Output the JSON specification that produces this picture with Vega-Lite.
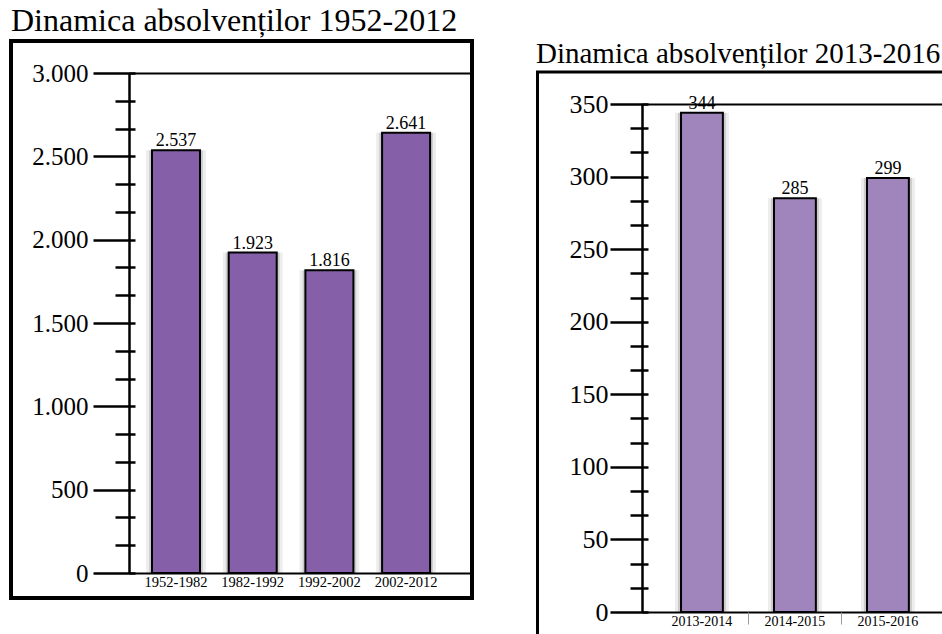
{
  "$schema": "https://vega.github.io/schema/vega-lite/v6.json",
  "padding": {"left": 9, "top": 3, "right": 0, "bottom": 0},
  "spacing": 62,
  "datasets": {
    "perioade_1952_2012": [
      {"perioada": "1952-1982", "absolventi": 2537},
      {"perioada": "1982-1992", "absolventi": 1923},
      {"perioada": "1992-2002", "absolventi": 1816},
      {"perioada": "2002-2012", "absolventi": 2641}
    ],
    "perioade_2013_2016": [
      {"perioada": "2013-2014", "absolventi": 344},
      {"perioada": "2014-2015", "absolventi": 285},
      {"perioada": "2015-2016", "absolventi": 299}
    ]
  },
  "hconcat": [
    {
      "width": 461,
      "height": 557,
      "view": {"stroke": "black", "strokeWidth": 4},
      "title": {
        "text": "Dinamica absolvenților 1952-2012",
        "anchor": "start",
        "frame": "group",
        "offset": -22,
        "baseline": "alphabetic",
        "font": "Liberation Serif",
        "fontSize": 32,
        "fontWeight": "normal",
        "color": "black"
      },
      "data": {"name": "perioade_1952_2012"},
      "encoding": {
        "x": {
          "field": "perioada",
          "type": "nominal",
          "sort": null,
          "scale": {"range": [118, 461], "paddingInner": 0, "paddingOuter": 0.236, "align": 0.239},
          "axis": {
            "orient": "bottom",
            "offset": -25,
            "domain": false,
            "ticks": false,
            "tickSize": 0,
            "labelAngle": 0,
            "labelPadding": 2,
            "labelFont": "Liberation Serif",
            "labelFontSize": 14.5,
            "labelColor": "black",
            "title": null
          }
        },
        "y": {
          "field": "absolventi",
          "type": "quantitative",
          "scale": {"domain": [0, 3000], "range": [532, 32], "nice": false},
          "axis": null
        }
      },
      "layer": [
        {
          "mark": {"type": "bar", "width": {"band": 0.78}, "color": "#000000", "opacity": 0.07, "strokeWidth": 0},
          "encoding": {
            "y": {
              "field": "absolventi",
              "type": "quantitative",
              "axis": {
                "orient": "left",
                "offset": -118,
                "domain": true,
                "domainColor": "black",
                "domainWidth": 2.5,
                "ticks": false,
                "labels": false,
                "grid": false,
                "title": null
              }
            }
          }
        },
        {
          "mark": {"type": "bar", "width": {"band": 0.7}, "color": "#000000", "opacity": 0.14, "strokeWidth": 0},
          "encoding": {
            "y": {
              "field": "absolventi",
              "type": "quantitative",
              "axis": {
                "orient": "left",
                "offset": -124,
                "values": [166.667, 333.333, 666.667, 833.333, 1166.667, 1333.333, 1666.667, 1833.333, 2166.667, 2333.333, 2666.667, 2833.333],
                "domain": false,
                "ticks": true,
                "tickSize": 20,
                "tickWidth": 2.5,
                "tickColor": "black",
                "labels": false,
                "grid": false,
                "title": null
              }
            }
          }
        },
        {
          "mark": {"type": "bar", "width": {"band": 0.626}, "color": "#8560A8", "stroke": "black", "strokeWidth": 2},
          "encoding": {
            "y": {
              "field": "absolventi",
              "type": "quantitative",
              "axis": {
                "orient": "left",
                "offset": -124,
                "values": [0, 500, 1000, 1500, 2000, 2500, 3000],
                "format": ",d",
                "domain": false,
                "ticks": true,
                "tickSize": 42,
                "tickWidth": 2.5,
                "tickColor": "black",
                "labelPadding": 5,
                "labelFont": "Liberation Serif",
                "labelFontSize": 25,
                "labelColor": "black",
                "grid": true,
                "gridColor": "black",
                "gridWidth": 2,
                "gridOpacity": {"condition": {"test": "datum.value == 0 || datum.value == 3000", "value": 1}, "value": 0},
                "title": null
              }
            }
          }
        },
        {
          "mark": {"type": "text", "baseline": "alphabetic", "dy": -4, "font": "Liberation Serif", "fontSize": 18, "color": "black"},
          "encoding": {
            "text": {"field": "absolventi", "type": "quantitative", "format": ",d"}
          }
        }
      ],
      "resolve": {"axis": {"y": "independent"}}
    },
    {
      "width": 406,
      "height": 593,
      "view": {"stroke": null},
      "title": {
        "text": "Dinamica absolvenților 2013-2016",
        "anchor": "start",
        "frame": "group",
        "offset": -51,
        "baseline": "alphabetic",
        "font": "Liberation Serif",
        "fontSize": 29,
        "fontWeight": "normal",
        "color": "black"
      },
      "layer": [
        {
          "data": {"name": "perioade_2013_2016"},
          "encoding": {
            "x": {
              "field": "perioada",
              "type": "nominal",
              "sort": null,
              "scale": {"range": [106, 406], "paddingInner": 0, "paddingOuter": 0.113, "align": 0.64},
              "axis": {
                "orient": "bottom",
                "offset": -22,
                "domain": false,
                "bandPosition": 0,
                "ticks": true,
                "tickSize": 12,
                "tickWidth": 1,
                "tickColor": "#9a9a9a",
                "tickOpacity": {"condition": {"test": "datum.value == '2013-2014'", "value": 0}, "value": 1},
                "labelAngle": 0,
                "labelPadding": -10,
                "labelFont": "Liberation Serif",
                "labelFontSize": 14,
                "labelColor": "black",
                "title": null
              }
            },
            "y": {
              "field": "absolventi",
              "type": "quantitative",
              "scale": {"domain": [0, 350], "range": [571, 63], "nice": false},
              "axis": null
            }
          },
          "layer": [
            {
              "mark": {"type": "bar", "width": {"band": 0.58}, "color": "#000000", "opacity": 0.07, "strokeWidth": 0},
              "encoding": {
                "y": {
                  "field": "absolventi",
                  "type": "quantitative",
                  "axis": {
                    "orient": "left",
                    "offset": -106,
                    "domain": true,
                    "domainColor": "black",
                    "domainWidth": 2.5,
                    "ticks": false,
                    "labels": false,
                    "grid": false,
                    "title": null
                  }
                }
              }
            },
            {
              "mark": {"type": "bar", "width": {"band": 0.516}, "color": "#000000", "opacity": 0.14, "strokeWidth": 0},
              "encoding": {
                "y": {
                  "field": "absolventi",
                  "type": "quantitative",
                  "axis": {
                    "orient": "left",
                    "offset": -112,
                    "values": [16.667, 33.333, 66.667, 83.333, 116.667, 133.333, 166.667, 183.333, 216.667, 233.333, 266.667, 283.333, 316.667, 333.333],
                    "domain": false,
                    "ticks": true,
                    "tickSize": 18,
                    "tickWidth": 2.5,
                    "tickColor": "black",
                    "labels": false,
                    "grid": false,
                    "title": null
                  }
                }
              }
            },
            {
              "mark": {"type": "bar", "width": {"band": 0.45}, "color": "#A084BC", "stroke": "black", "strokeWidth": 2},
              "encoding": {
                "y": {
                  "field": "absolventi",
                  "type": "quantitative",
                  "axis": {
                    "orient": "left",
                    "offset": -112,
                    "values": [0, 50, 100, 150, 200, 250, 300, 350],
                    "format": ",d",
                    "domain": false,
                    "ticks": true,
                    "tickSize": 38,
                    "tickWidth": 2.5,
                    "tickColor": "black",
                    "labelPadding": 2,
                    "labelFont": "Liberation Serif",
                    "labelFontSize": 26,
                    "labelColor": "black",
                    "grid": true,
                    "gridColor": "black",
                    "gridWidth": 2,
                    "gridOpacity": {"condition": {"test": "datum.value == 0 || datum.value == 350", "value": 1}, "value": 0},
                    "title": null
                  }
                }
              }
            },
            {
              "mark": {"type": "text", "baseline": "alphabetic", "dy": -4, "font": "Liberation Serif", "fontSize": 18, "color": "black"},
              "encoding": {
                "text": {"field": "absolventi", "type": "quantitative", "format": ",d"}
              }
            }
          ],
          "resolve": {"axis": {"y": "independent"}}
        },
        {
          "data": {"values": [{}]},
          "mark": {"type": "rect", "filled": false, "color": "black", "strokeWidth": 3, "clip": true},
          "encoding": {
            "x": {"datum": 0, "type": "quantitative", "scale": {"domain": [0, 1], "range": [1.5, 500]}, "axis": null},
            "x2": {"datum": 1},
            "y": {"datum": 0, "type": "quantitative", "scale": {"domain": [0, 1], "range": [31, 700]}, "axis": null},
            "y2": {"datum": 1}
          }
        }
      ],
      "resolve": {"scale": {"x": "independent", "y": "independent"}}
    }
  ],
  "config": {
    "font": "Liberation Serif",
    "view": {"stroke": null},
    "axis": {"labelFont": "Liberation Serif"},
    "locale": {
      "number": {"decimal": ",", "thousands": ".", "grouping": [3], "currency": ["", " lei"]}
    }
  }
}
